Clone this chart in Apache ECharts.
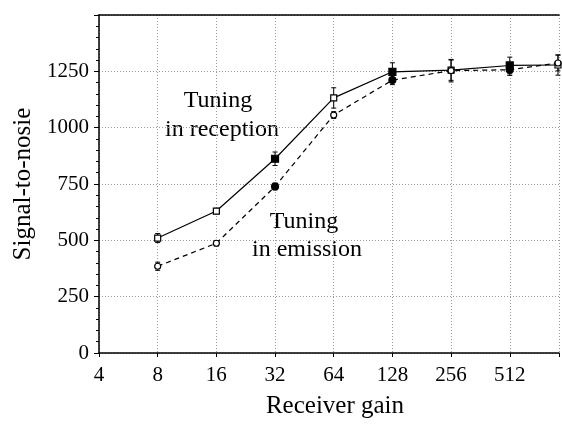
<!DOCTYPE html>
<html>
<head>
<meta charset="utf-8">
<title>Signal-to-nosie vs receiver gain</title>
<script src="https://cdn.jsdelivr.net/npm/echarts@6/dist/echarts.min.js"></script>
<style>
    html, body {margin: 0; padding: 0; background: #fff;}
    #main {width: 562px; height: 424px;}
</style>
</head>
<body>
<div id="main"></div>
<script>
// values
var gains = [8, 16, 32, 64, 128, 256, 512, 905];
var reception = [510, 630, 862, 1132, 1248, 1255, 1276, 1278];
var receptionErr = [20, 12, 30, 45, 40, 45, 37, 45];
var emission = [385, 487, 739, 1056, 1211, 1253, 1257, 1287];
var emissionErr = [18, 12, 15, 15, 20, 50, 25, 35];
var yTicks = [0, 250, 500, 750, 1000, 1250];

var filledPoints = [2, 4, 6];
var serif = 'Liberation Serif';

function pairs(vals) {
    return gains.map(function (g, i) {
        return [g, vals[i]];
    });
}

function errorBars(vals, errs) {
    var data = gains.map(function (g, i) {
        return [g, vals[i] - errs[i], vals[i] + errs[i]];
    });
    return {
        type: 'custom',
        data: data,
        encode: {x: 0, y: [1, 2]},
        z: 1,
        silent: true,
        renderItem: function (params, api) {
            var lo = api.coord([api.value(0), api.value(1)]);
            var hi = api.coord([api.value(0), api.value(2)]);
            var w = 2.5;
            var st = {stroke: '#000', lineWidth: 1};
            return {
                type: 'group',
                children: [
                    {type: 'line', shape: {x1: lo[0], y1: lo[1], x2: hi[0], y2: hi[1]}, style: st},
                    {type: 'line', shape: {x1: lo[0] - w, y1: lo[1], x2: lo[0] + w, y2: lo[1]}, style: st},
                    {type: 'line', shape: {x1: hi[0] - w, y1: hi[1], x2: hi[0] + w, y2: hi[1]}, style: st}
                ]
            };
        }
    };
}

function markerFill(p) {
    return filledPoints.indexOf(p.dataIndex) >= 0 ? '#000' : '#fff';
}
function markerSize(v, p) {
    return filledPoints.indexOf(p.dataIndex) >= 0 ? 7 : 6;
}

function isPow2(v) {
    var l = Math.log(v) / Math.LN2;
    return Math.abs(l - Math.round(l)) < 1e-6;
}

var chart = echarts.init(document.getElementById('main'));
var option = {
    backgroundColor: '#fff',
    animation: false,
    grid: {left: 99, right: 0, top: 15, bottom: 67},
    xAxis: [{
        type: 'log',
        logBase: 2,
        min: 4,
        max: 916,
        name: 'Receiver gain',
        nameLocation: 'middle',
        nameGap: 41,
        nameTextStyle: {fontFamily: serif, fontSize: 25, color: '#000', padding: [0, 0, 0, 12]},
        axisLine: {lineStyle: {color: '#000', width: 1.5}},
        axisTick: {inside: false, length: 4, lineStyle: {color: '#000'}},
        minorTick: {show: false},
        axisLabel: {
            fontFamily: serif, fontSize: 21, color: '#000', margin: 12,
            formatter: function (v) {
                return isPow2(v) ? String(Math.round(v)) : '';
            }
        },
        splitLine: {show: true, lineStyle: {color: '#999', type: [1, 2], width: 1}}
    }, {
        type: 'value',
        position: 'top',
        min: 0,
        max: 1,
        axisLine: {show: true, lineStyle: {color: '#000', width: 1.5}},
        axisTick: {show: false},
        axisLabel: {show: false},
        splitLine: {show: false}
    }],
    yAxis: {
        type: 'value',
        min: 0,
        max: 1500,
        interval: 250,
        name: 'Signal-to-nosie',
        nameLocation: 'middle',
        nameGap: 60,
        nameTextStyle: {fontFamily: serif, fontSize: 25, color: '#000'},
        axisLine: {show: true, lineStyle: {color: '#000', width: 1.5}},
        axisTick: {inside: false, length: 5, lineStyle: {color: '#000'}},
        minorTick: {show: true, splitNumber: 5, length: 3, lineStyle: {color: '#000'}},
        axisLabel: {
            fontFamily: serif, fontSize: 21, color: '#000', margin: 10,
            formatter: function (v) {
                return yTicks.indexOf(v) >= 0 ? String(v) : '';
            }
        },
        splitLine: {show: true, lineStyle: {color: '#999', type: [1, 2], width: 1}}
    },
    graphic: [
        {type: 'text', x: 218, y: 101, style: {text: 'Tuning', font: '24px "Liberation Serif"', fill: '#000', align: 'center', verticalAlign: 'middle'}},
        {type: 'text', x: 222, y: 130, style: {text: 'in reception', font: '24px "Liberation Serif"', fill: '#000', align: 'center', verticalAlign: 'middle'}},
        {type: 'text', x: 304, y: 222, style: {text: 'Tuning', font: '24px "Liberation Serif"', fill: '#000', align: 'center', verticalAlign: 'middle'}},
        {type: 'text', x: 307, y: 250, style: {text: 'in emission', font: '24px "Liberation Serif"', fill: '#000', align: 'center', verticalAlign: 'middle'}}
    ],
    series: [
        errorBars(reception, receptionErr),
        errorBars(emission, emissionErr),
        {
            name: 'Tuning in reception',
            type: 'line',
            data: pairs(reception),
            symbol: 'rect',
            symbolSize: markerSize,
            z: 3,
            lineStyle: {color: '#000', width: 1.2, type: 'solid'},
            itemStyle: {color: markerFill, borderColor: '#000', borderWidth: 1.2}
        },
        {
            name: 'Tuning in emission',
            type: 'line',
            data: pairs(emission),
            symbol: 'circle',
            symbolSize: markerSize,
            z: 4,
            lineStyle: {color: '#000', width: 1.2, type: [5, 4]},
            itemStyle: {color: markerFill, borderColor: '#000', borderWidth: 1.2}
        }
    ]
};
chart.setOption(option);
</script>
</body>
</html>
